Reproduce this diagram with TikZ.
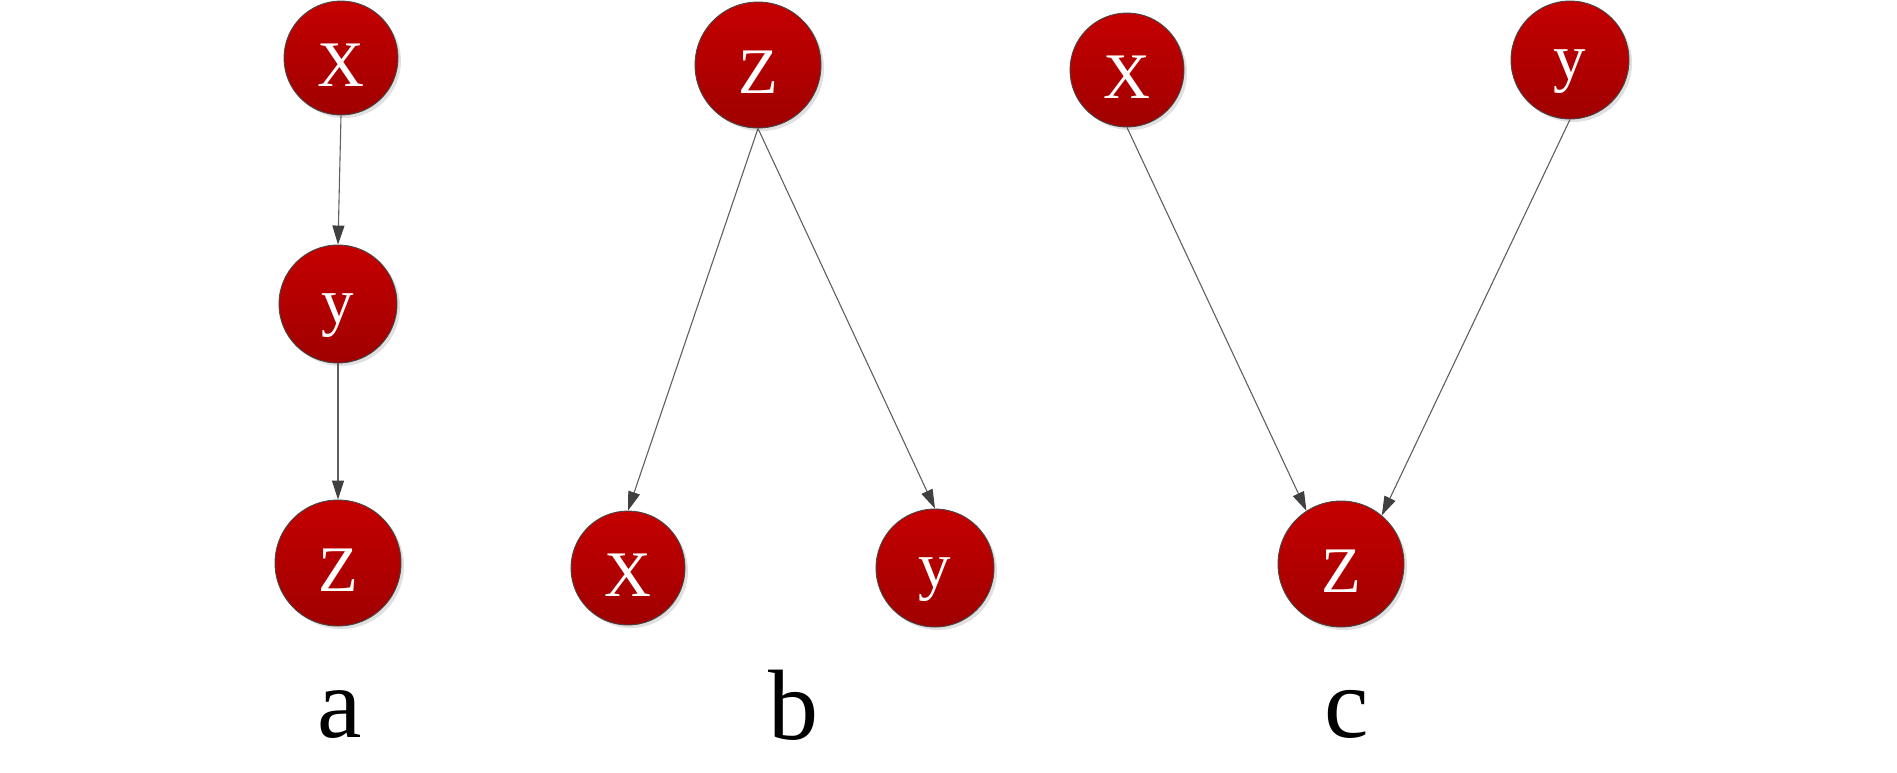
\documentclass[tikz,border=0pt]{standalone}
\usepackage{fontspec}
\setmainfont{LiberationSerif}[Extension=.ttf, UprightFont=*-Regular, BoldFont=*-Bold]
\usetikzlibrary{arrows.meta,shadows}
\definecolor{redtop}{RGB}{196,0,0}
\definecolor{redbot}{RGB}{160,0,0}
\definecolor{rimcol}{RGB}{70,70,70}
\definecolor{edgecol}{RGB}{95,95,95}
\definecolor{tipcol}{RGB}{64,64,64}
\newcommand\lowtxt[2]{\raisebox{-#1}[0pt][0pt]{#2}}
\tikzset{
  ball/.style={circle, inner sep=0pt, minimum size=#1, draw=rimcol, line width=0.9pt,
    top color=redtop, bottom color=redbot, text=white,
    font=\fontsize{65}{65}\selectfont,
    drop shadow={shadow xshift=3pt, shadow yshift=-3pt, fill=black, opacity=0.12}},
  link/.style={draw=edgecol, line width=1.1pt,
    -{Triangle[length=19pt,width=12pt,color=tipcol,fill=tipcol]}},
  caption/.style={anchor=base, font=\fontsize{100}{100}\selectfont, text=black}
}
\begin{document}
\begin{tikzpicture}[x=1pt,y=-1pt]
\useasboundingbox (0,0) rectangle (1897,772);
% a
\node[ball=114pt] (ax) at (341,58) {\lowtxt{28pt}{X}};
\node[ball=118pt] (ay) at (338,304) {\lowtxt{19pt}{y}};
\node[ball=126pt] (az) at (338,563) {\lowtxt{28pt}{Z}};
\draw[link] (ax.south) -- (ay.north);
\draw[link] (ay.south) -- (az.north);
\node[caption] (la) at (340,737) {a};
% b
\node[ball=126pt] (bz) at (758,65) {\lowtxt{28pt}{Z}};
\node[ball=114pt] (bx) at (628,568) {\lowtxt{28pt}{X}};
\node[ball=118pt] (by) at (935,568) {\lowtxt{19pt}{y}};
\draw[link] (bz.south) -- (bx.north);
\draw[link] (bz.south) -- (by.north);
\node[caption] (lb) at (793,739) {b};
% c
\node[ball=114pt] (cx) at (1127,70) {\lowtxt{28pt}{X}};
\node[ball=118pt] (cy) at (1570,60) {\lowtxt{19pt}{y}};
\node[ball=126pt] (cz) at (1341,564) {\lowtxt{28pt}{Z}};
\draw[link] (cx.south) -- (cz.123);
\draw[link] (cy.south) -- (cz.50);
\node[caption] (lc) at (1347,737) {c};
\end{tikzpicture}
\end{document}
